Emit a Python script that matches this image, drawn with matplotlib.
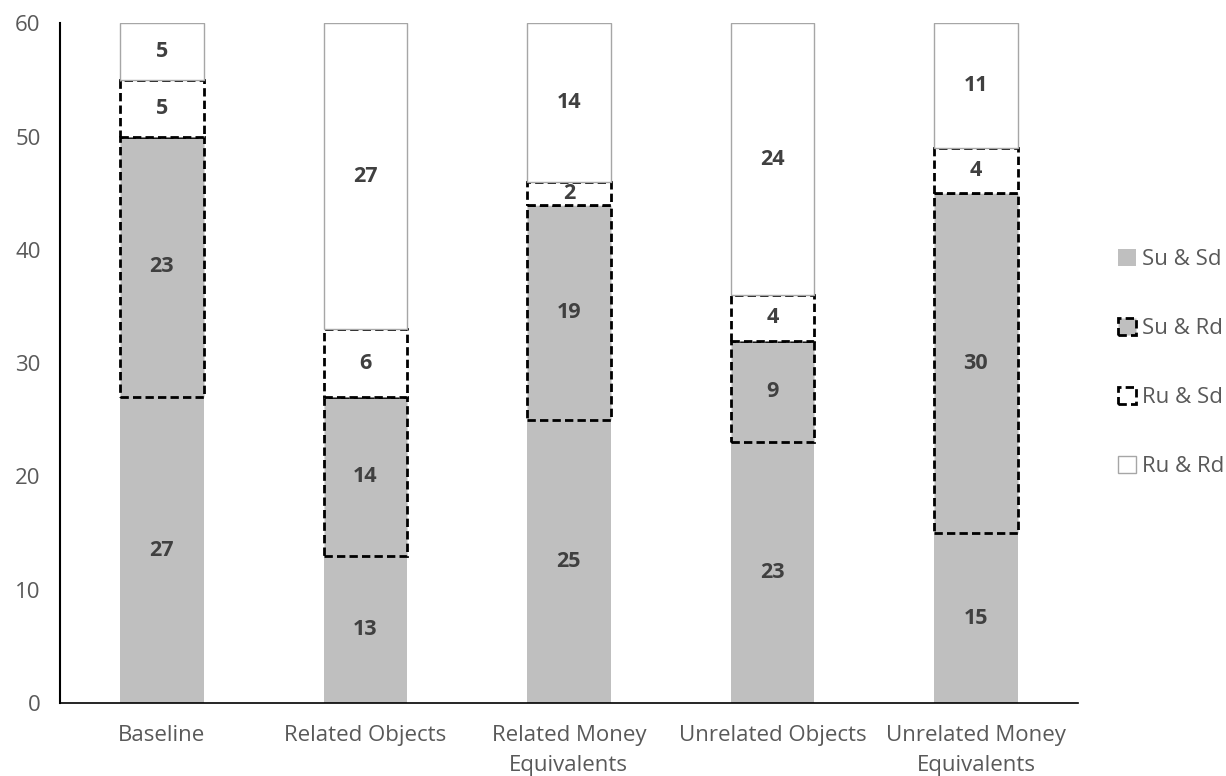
import numpy as np
import matplotlib.pyplot as plt

plt.rcParams['font.family'] = ['Open Sans', 'DejaVu Sans']

categories = ["Baseline", "Related Objects", "Related Money\nEquivalents",
              "Unrelated Objects", "Unrelated Money\nEquivalents"]
su_sd = [27, 13, 25, 23, 15]
su_rd = [23, 14, 19, 9, 30]
ru_sd = [5, 6, 2, 4, 4]
ru_rd = [5, 27, 14, 24, 11]

series = [
    ("Su & Sd", su_sd, dict(facecolor="#bfbfbf", edgecolor="none", linewidth=0)),
    ("Su & Rd", su_rd, dict(facecolor="#bfbfbf", edgecolor="black", linewidth=2, linestyle=(0, (3, 1.5)))),
    ("Ru & Sd", ru_sd, dict(facecolor="white", edgecolor="black", linewidth=2, linestyle=(0, (3, 1.5)))),
    ("Ru & Rd", ru_rd, dict(facecolor="white", edgecolor="#a6a6a6", linewidth=1)),
]

fig = plt.figure(figsize=(12.26, 7.76), dpi=100)
ax = fig.add_axes([0.049, 0.094, 0.830, 0.876])

x = np.arange(len(categories))
bottom = np.zeros(len(categories))
for name, vals, style in series:
    ax.bar(x, vals, width=0.41, bottom=bottom, label=name, **style)
    for xi, b, v in zip(x, bottom, vals):
        ax.text(xi, b + v / 2, str(v), ha="center", va="center",
                fontsize=15.5, fontweight="bold", color="#404040")
    bottom += np.array(vals)

ax.set_xlim(-0.5, 4.5)
ax.set_ylim(0, 60)
ax.set_yticks(range(0, 61, 10))
ax.set_xticks(x)
ax.set_xticklabels(categories, linespacing=1.55)
ax.tick_params(axis="both", length=0, labelsize=16, colors="#595959")
ax.tick_params(axis="x", pad=16)
ax.tick_params(axis="y", pad=14)
ax.spines["top"].set_visible(False)
ax.spines["right"].set_visible(False)
ax.spines["left"].set_color("black")
ax.spines["left"].set_linewidth(1.5)
ax.spines["bottom"].set_color("black")
ax.spines["bottom"].set_linewidth(1.2)

ax.legend(loc="center left", bbox_to_anchor=(1.04, 0.5), frameon=False,
          borderaxespad=0, borderpad=0,
          fontsize=16, labelspacing=2.15, handlelength=0.8, handleheight=0.8,
          handletextpad=0.25, labelcolor="#595959")

fig.savefig("out.png", dpi=100)
